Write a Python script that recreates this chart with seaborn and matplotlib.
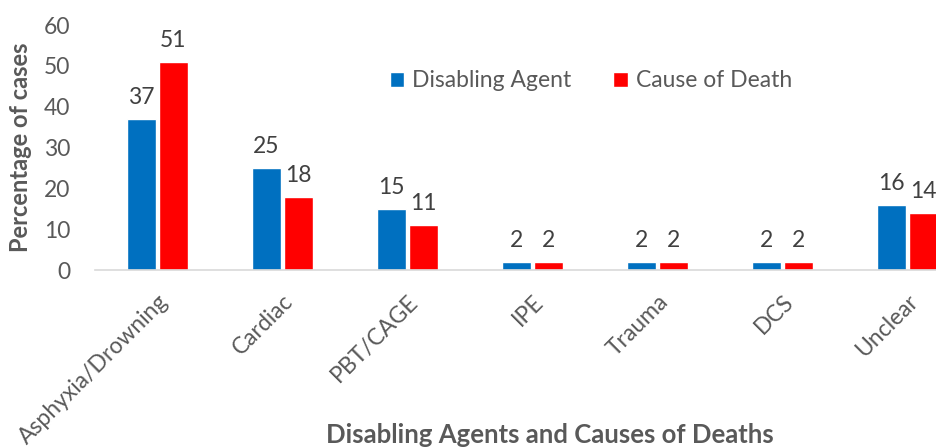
import pandas as pd
import matplotlib
matplotlib.use("Agg")
import matplotlib.pyplot as plt
import seaborn as sns

# Values.
categories = ["Asphyxia/Drowning", "Cardiac", "PBT/CAGE", "IPE", "Trauma", "DCS", "Unclear"]
disabling_agent = [37, 25, 15, 2, 2, 2, 16]
cause_of_death = [51, 18, 11, 2, 2, 2, 14]
series_names = ["Disabling Agent", "Cause of Death"]
colors = ["#0070C0", "#FF0000"]

df = pd.DataFrame({
    "category": categories * 2,
    "value": disabling_agent + cause_of_death,
    "series": [series_names[0]] * len(categories) + [series_names[1]] * len(categories),
})

sns.set_style("white")
plt.rcParams["font.family"] = ["Lato", "DejaVu Sans"]
grey = "#595959"

fig = plt.figure(figsize=(9.37, 4.48), dpi=100)
ax = fig.add_axes([0.1015, 0.397, 0.9335, 0.547])

sns.barplot(data=df, x="category", y="value", hue="series", palette=colors,
            width=0.51, gap=0.1, ax=ax, saturation=1)

for c in ax.containers:
    ax.bar_label(c, padding=8, fontsize=16.5, color="#404040")

ax.set_ylim(0, 60)
ax.set_yticks(range(0, 61, 10))
ax.set_xlim(-0.5, 6.5)
ax.tick_params(axis="y", labelsize=16.5, labelcolor=grey, length=0, pad=18)
ax.tick_params(axis="x", labelsize=16.5, labelcolor=grey, length=0, pad=15)
plt.setp(ax.get_xticklabels(), rotation=45, ha="right", rotation_mode="anchor")

ax.set_ylabel("Percentage of cases", fontsize=17, fontweight="bold", color=grey, labelpad=8)
ax.set_xlabel("")
fig.text(0.587, 0.028, "Disabling Agents and Causes of Deaths", fontsize=18.5,
         fontweight="bold", color=grey, ha="center", va="center")

for side in ["top", "right", "left"]:
    ax.spines[side].set_visible(False)
ax.spines["bottom"].set_color("#D9D9D9")
ax.spines["bottom"].set_linewidth(1.2)

leg = ax.legend(loc="upper left", bbox_to_anchor=(0.313, 0.90), ncol=2, frameon=False,
                fontsize=16.5, handlelength=0.65, handleheight=0.65, columnspacing=1.8,
                handletextpad=0.35)
for t in leg.get_texts():
    t.set_color(grey)

fig.savefig("out.png", dpi=100)
